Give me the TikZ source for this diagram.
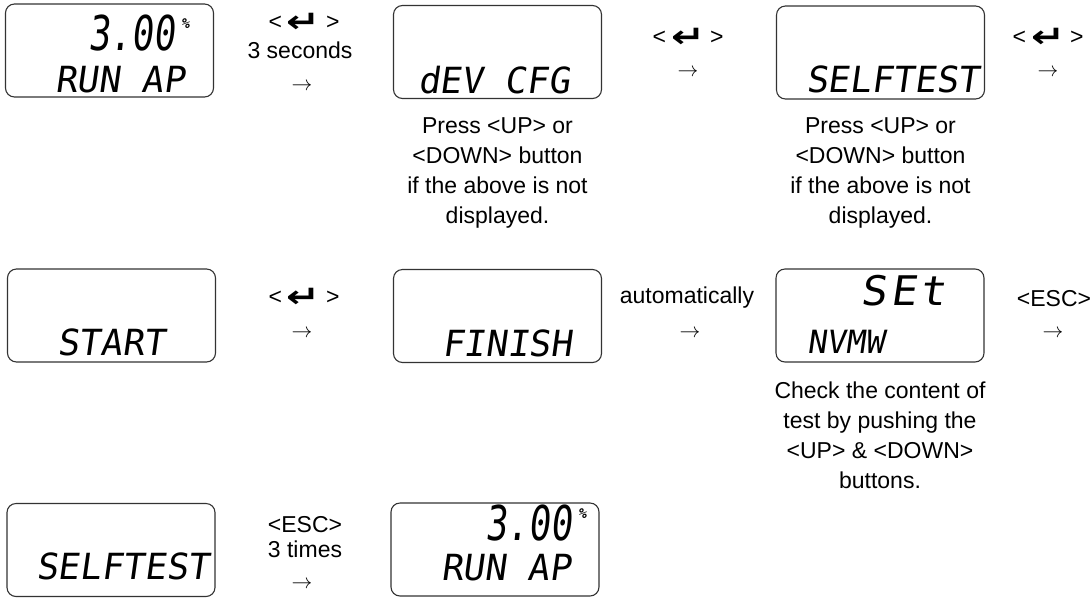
\documentclass[tikz,border=0pt]{standalone}
\usepackage{fontspec}
\setmainfont{Liberation Sans}
\newfontfamily\lcdfont[FakeSlant=0.14]{DejaVu Sans Mono}
\newfontfamily\symfont{DejaVu Sans}
\usetikzlibrary{positioning}
\newcommand{\enterkey}{<\hspace{5pt}{\symfont\bfseries\fontsize{28}{28}\selectfont\raisebox{-3pt}{\scalebox{1.45}[1.1]{↵}}}\hspace{5pt}>}
\tikzset{
  lcd/.style  = {rectangle, rounded corners=9pt, draw=black!80, line width=1.1pt,
                 minimum width=208pt, minimum height=93pt, inner sep=0pt},
  seg/.style  = {font=\lcdfont\fontsize{36}{36}\selectfont, inner sep=0pt, anchor=base west},
  big/.style  = {font=\lcdfont\fontsize{48}{48}\selectfont, inner sep=0pt, anchor=base east},
  pct/.style  = {font=\lcdfont\bfseries\fontsize{14}{14}\selectfont, inner sep=0pt, anchor=base west},
  lbl/.style  = {font=\fontsize{23}{30}\selectfont, align=center, inner sep=0pt},
  arr/.style  = {font=\fontsize{21}{21}\selectfont, inner sep=0pt},
}
\begin{document}
\begin{tikzpicture}[x=1pt, y=-1pt, node distance=18pt]
  \useasboundingbox (0,0) rectangle (1092,598);
  % first row
  \node[lcd] (run) at (109.5,50.5) {};
  \node[big] (runv) at (175,50) {\scalebox{0.75}[1]{3.00}};
  \node[pct] (runp) at (181,28) {\%};
  \node[seg] (runt) at (55,92) {RUN AP};
  \node[lbl] (k1) at (304,23) {\enterkey};
  \node[lbl] (t1) at (300,50) {3 seconds};
  \node[arr] (a1) at (302,87) {$\rightarrow$};

  \node[lcd] (dev) at (497.5,52) {};
  \node[seg] (devt) at (418,93) {dEV CFG};
  \node[lbl, below=of dev] (devc) {Press <UP> or\\ <DOWN> button\\ if the above is not\\ displayed.};
  \node[lbl] (k2) at (688,38) {\enterkey};
  \node[arr] (a2) at (688,73) {$\rightarrow$};

  \node[lcd] (self) at (880.5,52.5) {};
  \node[seg] (selft) at (806,92) {SELFTEST};
  \node[lbl, below=of self] (selfc) {Press <UP> or\\ <DOWN> button\\ if the above is not\\ displayed.};
  \node[lbl] (k3) at (1048,38) {\enterkey};
  \node[arr] (a3) at (1048,73) {$\rightarrow$};

  % second row
  \node[lcd] (start) at (111.5,315.5) {};
  \node[seg] (startt) at (57,355) {START};
  \node[lbl] (k4) at (304,298) {\enterkey};
  \node[arr] (a4) at (302,334) {$\rightarrow$};

  \node[lcd] (fin) at (497.5,316) {};
  \node[seg] (fint) at (442,356) {FINISH};
  \node[lbl] (t5) at (687,298) {automatically};
  \node[arr] (a5) at (690,334) {$\rightarrow$};

  \node[lcd] (set) at (880,315.5) {};
  \node[big] (setv) at (946,305) {\scalebox{0.9}[0.85]{S\kern4pt E\kern4pt t}};
  \node[seg, font=\lcdfont\fontsize{32}{32}\selectfont] (sett) at (807,353) {NVMW};
  \node[lbl, below=19pt of set] (setc) {Check the content of\\ test by pushing the\\ <UP> \& <DOWN>\\ buttons.};
  \node[lbl] (t6) at (1054,299) {<ESC>};
  \node[arr] (a6) at (1053,334) {$\rightarrow$};

  % third row
  \node[lcd] (back) at (111,550) {};
  \node[seg] (backt) at (36,579) {SELFTEST};
  \node[lbl] (t7) at (305,525) {<ESC>};
  \node[lbl] (t7b) at (305,549) {3 times};
  \node[arr] (a7) at (302,585) {$\rightarrow$};

  \node[lcd] (runb) at (495,549.5) {};
  \node[big] (runbv) at (572,540) {\scalebox{0.75}[1]{3.00}};
  \node[pct] (runbp) at (578,518) {\%};
  \node[seg] (runbt) at (441,580) {RUN AP};
\end{tikzpicture}
\end{document}
